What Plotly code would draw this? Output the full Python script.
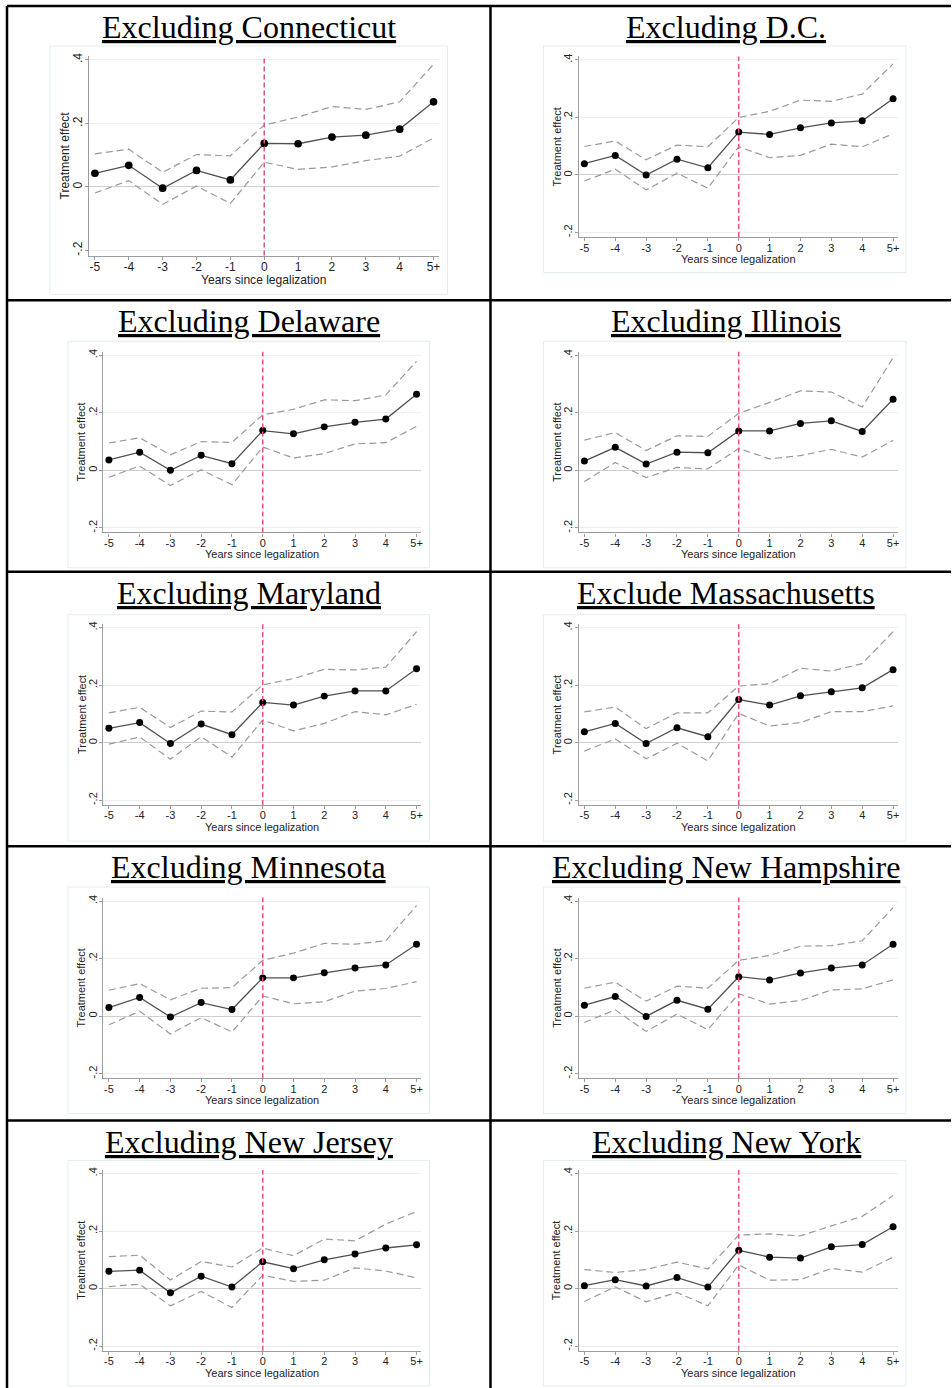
import plotly.graph_objects as go

# ---- data -------------------------------------------------------------
years = [-5, -4, -3, -2, -1, 0, 1, 2, 3, 4, 5]
year_labels = ["-5", "-4", "-3", "-2", "-1", "0", "1", "2", "3", "4", "5+"]
y_tickvals = [-0.2, 0, 0.2, 0.4]
y_ticktext = ["-.2", "0", ".2", ".4"]

titles = [
    "Excluding Connecticut", "Excluding D.C.",
    "Excluding Delaware", "Excluding Illinois",
    "Excluding Maryland", "Exclude Massachusetts",
    "Excluding Minnesota", "Excluding New Hampshire",
    "Excluding New Jersey", "Excluding New York",
]

ct_est = [0.043, 0.068, -0.004, 0.052, 0.022, 0.137, 0.136, 0.157, 0.163, 0.182, 0.268]
ct_hi = [0.104, 0.119, 0.046, 0.102, 0.098, 0.195, 0.220, 0.253, 0.244, 0.268, 0.386]
ct_lo = [-0.019, 0.020, -0.055, 0.003, -0.052, 0.078, 0.055, 0.063, 0.083, 0.097, 0.154]

dc_est = [0.039, 0.068, 0.000, 0.055, 0.025, 0.149, 0.141, 0.164, 0.181, 0.188, 0.265]
dc_hi = [0.099, 0.118, 0.053, 0.104, 0.098, 0.200, 0.221, 0.260, 0.256, 0.281, 0.386]
dc_lo = [-0.021, 0.020, -0.052, 0.006, -0.046, 0.098, 0.060, 0.068, 0.107, 0.098, 0.143]

de_est = [0.036, 0.063, 0.000, 0.052, 0.023, 0.138, 0.127, 0.151, 0.167, 0.178, 0.264]
de_hi = [0.095, 0.113, 0.054, 0.100, 0.097, 0.193, 0.212, 0.245, 0.242, 0.262, 0.379]
de_lo = [-0.024, 0.015, -0.053, 0.002, -0.050, 0.081, 0.043, 0.058, 0.092, 0.096, 0.153]

il_est = [0.032, 0.080, 0.022, 0.063, 0.061, 0.137, 0.137, 0.163, 0.172, 0.135, 0.247]
il_hi = [0.105, 0.131, 0.069, 0.120, 0.118, 0.198, 0.236, 0.276, 0.272, 0.220, 0.391]
il_lo = [-0.039, 0.027, -0.025, 0.010, 0.005, 0.076, 0.040, 0.051, 0.073, 0.046, 0.104]

md_est = [0.050, 0.070, -0.003, 0.065, 0.028, 0.140, 0.131, 0.162, 0.180, 0.180, 0.257]
md_hi = [0.104, 0.123, 0.053, 0.110, 0.107, 0.201, 0.223, 0.255, 0.253, 0.263, 0.386]
md_lo = [-0.005, 0.020, -0.057, 0.021, -0.050, 0.079, 0.041, 0.067, 0.108, 0.097, 0.133]

ma_est = [0.038, 0.067, -0.003, 0.052, 0.021, 0.150, 0.131, 0.163, 0.177, 0.191, 0.254]
ma_hi = [0.107, 0.124, 0.049, 0.104, 0.104, 0.197, 0.205, 0.259, 0.249, 0.275, 0.386]
ma_lo = [-0.029, 0.013, -0.056, -0.002, -0.063, 0.102, 0.058, 0.070, 0.108, 0.108, 0.128]

mn_est = [0.030, 0.065, -0.003, 0.047, 0.023, 0.133, 0.133, 0.151, 0.167, 0.178, 0.250]
mn_hi = [0.090, 0.113, 0.057, 0.097, 0.099, 0.194, 0.219, 0.253, 0.250, 0.262, 0.384]
mn_lo = [-0.030, 0.017, -0.062, -0.005, -0.055, 0.070, 0.043, 0.050, 0.087, 0.096, 0.120]

nh_est = [0.038, 0.068, -0.001, 0.055, 0.024, 0.137, 0.126, 0.150, 0.167, 0.178, 0.250]
nh_hi = [0.097, 0.118, 0.052, 0.104, 0.097, 0.194, 0.211, 0.243, 0.245, 0.262, 0.377]
nh_lo = [-0.022, 0.022, -0.053, 0.007, -0.047, 0.078, 0.042, 0.054, 0.091, 0.095, 0.126]

nj_est = [0.060, 0.064, -0.015, 0.043, 0.005, 0.093, 0.069, 0.100, 0.120, 0.141, 0.152]
nj_hi = [0.111, 0.116, 0.030, 0.094, 0.075, 0.141, 0.114, 0.172, 0.166, 0.224, 0.268]
nj_lo = [0.007, 0.015, -0.060, -0.010, -0.066, 0.046, 0.025, 0.029, 0.072, 0.061, 0.037]

ny_est = [0.010, 0.031, 0.009, 0.038, 0.005, 0.133, 0.109, 0.106, 0.145, 0.153, 0.215]
ny_hi = [0.066, 0.056, 0.066, 0.092, 0.068, 0.186, 0.190, 0.183, 0.218, 0.251, 0.323]
ny_lo = [-0.045, 0.006, -0.046, -0.014, -0.060, 0.082, 0.029, 0.031, 0.070, 0.057, 0.109]

series = [
    (ct_est, ct_hi, ct_lo), (dc_est, dc_hi, dc_lo),
    (de_est, de_hi, de_lo), (il_est, il_hi, il_lo),
    (md_est, md_hi, md_lo), (ma_est, ma_hi, ma_lo),
    (mn_est, mn_hi, mn_lo), (nh_est, nh_hi, nh_lo),
    (nj_est, nj_hi, nj_lo), (ny_est, ny_hi, ny_lo),
]

# ---- page layout (pixels) ---------------------------------------------
W, H = 952, 1388
X_RANGE = (-5.18, 5.16)
Y_RANGE = (-0.216, 0.412)

# tick anchors: x of "-5", x of "5+", y of ".4", y of "-.2"; graph box l, t, r, b
panel_geom = [
    ((95, 434, 57, 248), (50, 43, 448, 292)),
    ((585, 894, 57, 230), (544, 43, 907, 270)),
    ((109, 417, 353, 526), (68, 339, 430, 566)),
    ((585, 894, 353, 526), (544, 339, 907, 566)),
    ((109, 417, 626, 799), (68, 613, 430, 840)),
    ((585, 894, 626, 799), (544, 613, 907, 840)),
    ((109, 417, 900, 1073), (68, 886, 430, 1113)),
    ((585, 894, 900, 1073), (544, 886, 907, 1113)),
    ((109, 417, 1173, 1346), (68, 1160, 430, 1386)),
    ((585, 894, 1173, 1346), (544, 1160, 907, 1386)),
]
row_tops = [3, 298, 570, 845, 1120]
col_centers = [249, 727]
table_left, table_mid = 7, 491


def fx(px):
    return px / W


def fy(py):
    return 1 - py / H


SANS = "Liberation Sans, Arial, sans-serif"
SERIF = "Liberation Serif, Times New Roman, serif"
GRID = "#e9f0ee"
AXIS = "#9c9c9c"

fig = go.Figure()
shapes = []
annotations = []

for i, ((xm5, x5, y4, ym2), box) in enumerate(panel_geom):
    n = i + 1
    sfx = "" if n == 1 else str(n)
    xa, ya = "x" + sfx, "y" + sfx
    est, hi, lo = series[i]

    ux = (x5 - xm5) / 10.0
    uy = (ym2 - y4) / 0.6
    left = xm5 + (X_RANGE[0] + 5) * ux
    right = xm5 + (X_RANGE[1] + 5) * ux
    top = y4 - (Y_RANGE[1] - 0.4) * uy
    bottom = y4 + (0.4 - Y_RANGE[0]) * uy
    scale = ux / 30.9
    fs = 11 * scale

    # graph region outline
    l, t, r, b = box
    shapes.append(dict(type="rect", xref="paper", yref="paper",
                       x0=fx(l), x1=fx(r), y0=fy(b), y1=fy(t),
                       line=dict(color="#e4eced", width=1), layer="below"))

    # confidence bands
    for band in (hi, lo):
        fig.add_trace(go.Scatter(
            x=years, y=band, mode="lines", xaxis=xa, yaxis=ya,
            line=dict(color="#9a9a9a", width=1.2, dash="7px,4px"),
            hoverinfo="skip", showlegend=False))
    # point estimates
    fig.add_trace(go.Scatter(
        x=years, y=est, mode="lines+markers", xaxis=xa, yaxis=ya,
        line=dict(color="#505050", width=1.3),
        marker=dict(color="black", size=7 * scale),
        showlegend=False))

    # legalization year marker
    shapes.append(dict(type="line", xref=xa, yref=ya + " domain",
                       x0=0, x1=0, y0=0, y1=1,
                       line=dict(color="#e2557c", width=1.5, dash="5px,3px")))

    axis_font = dict(family=SANS, size=fs, color="#222222")
    fig.update_layout(**{
        ("xaxis" + sfx): dict(
            domain=[fx(left), fx(right)], range=list(X_RANGE), anchor=ya,
            tickmode="array", tickvals=years, ticktext=year_labels,
            ticks="outside", ticklen=3, tickcolor=AXIS, tickwidth=1,
            ticklabelstandoff=-3,
            showline=True, linecolor=AXIS, linewidth=1.4,
            showgrid=False, zeroline=False, tickfont=axis_font,
            fixedrange=True),
        ("yaxis" + sfx): dict(
            domain=[fy(bottom), fy(top)], range=list(Y_RANGE), anchor=xa,
            tickmode="array", tickvals=y_tickvals, ticktext=y_ticktext,
            tickangle=-90, ticks="outside", ticklen=3, tickcolor=AXIS,
            ticklabelstandoff=-2,
            tickwidth=1, showline=True, linecolor=AXIS, linewidth=1.4,
            showgrid=True, gridcolor=GRID, gridwidth=1,
            zeroline=True, zerolinecolor="#cfcfcf", zerolinewidth=1.4,
            tickfont=axis_font, fixedrange=True),
    })

    # axis titles
    annotations.append(dict(
        text="Years since legalization", xref="paper", yref="paper",
        x=fx((left + right) / 2), y=fy(bottom + 22 * scale),
        xanchor="center", yanchor="middle", showarrow=False,
        font=dict(family=SANS, size=fs, color="#222222")))
    annotations.append(dict(
        text="Treatment effect", xref="paper", yref="paper",
        x=fx(left - 22 * scale), y=fy((top + bottom) / 2),
        xanchor="center", yanchor="middle", textangle=-90, showarrow=False,
        font=dict(family=SANS, size=fs, color="#222222")))

    # panel heading
    row, col = divmod(i, 2)
    annotations.append(dict(
        text="<u>" + titles[i] + "</u>", xref="paper", yref="paper",
        x=fx(col_centers[col]), y=fy(row_tops[row] + 1),
        xanchor="center", yanchor="top", showarrow=False,
        font=dict(family=SERIF, size=32, color="black")))

# table rules
rule = dict(color="black", width=2.5)
shapes.append(dict(type="line", xref="paper", yref="paper",
                   x0=fx(table_left), x1=fx(table_left), y0=0, y1=fy(row_tops[0]),
                   line=rule))
shapes.append(dict(type="line", xref="paper", yref="paper",
                   x0=fx(table_mid), x1=fx(table_mid), y0=0, y1=fy(row_tops[0]),
                   line=rule))
for yt in row_tops:
    shapes.append(dict(type="line", xref="paper", yref="paper",
                       x0=fx(table_left), x1=1, y0=fy(yt), y1=fy(yt), line=rule))

fig.update_layout(
    width=W, height=H, margin=dict(l=0, r=0, t=0, b=0),
    paper_bgcolor="white", plot_bgcolor="white",
    shapes=shapes, annotations=annotations, showlegend=False,
)

fig.write_html("out.html")
